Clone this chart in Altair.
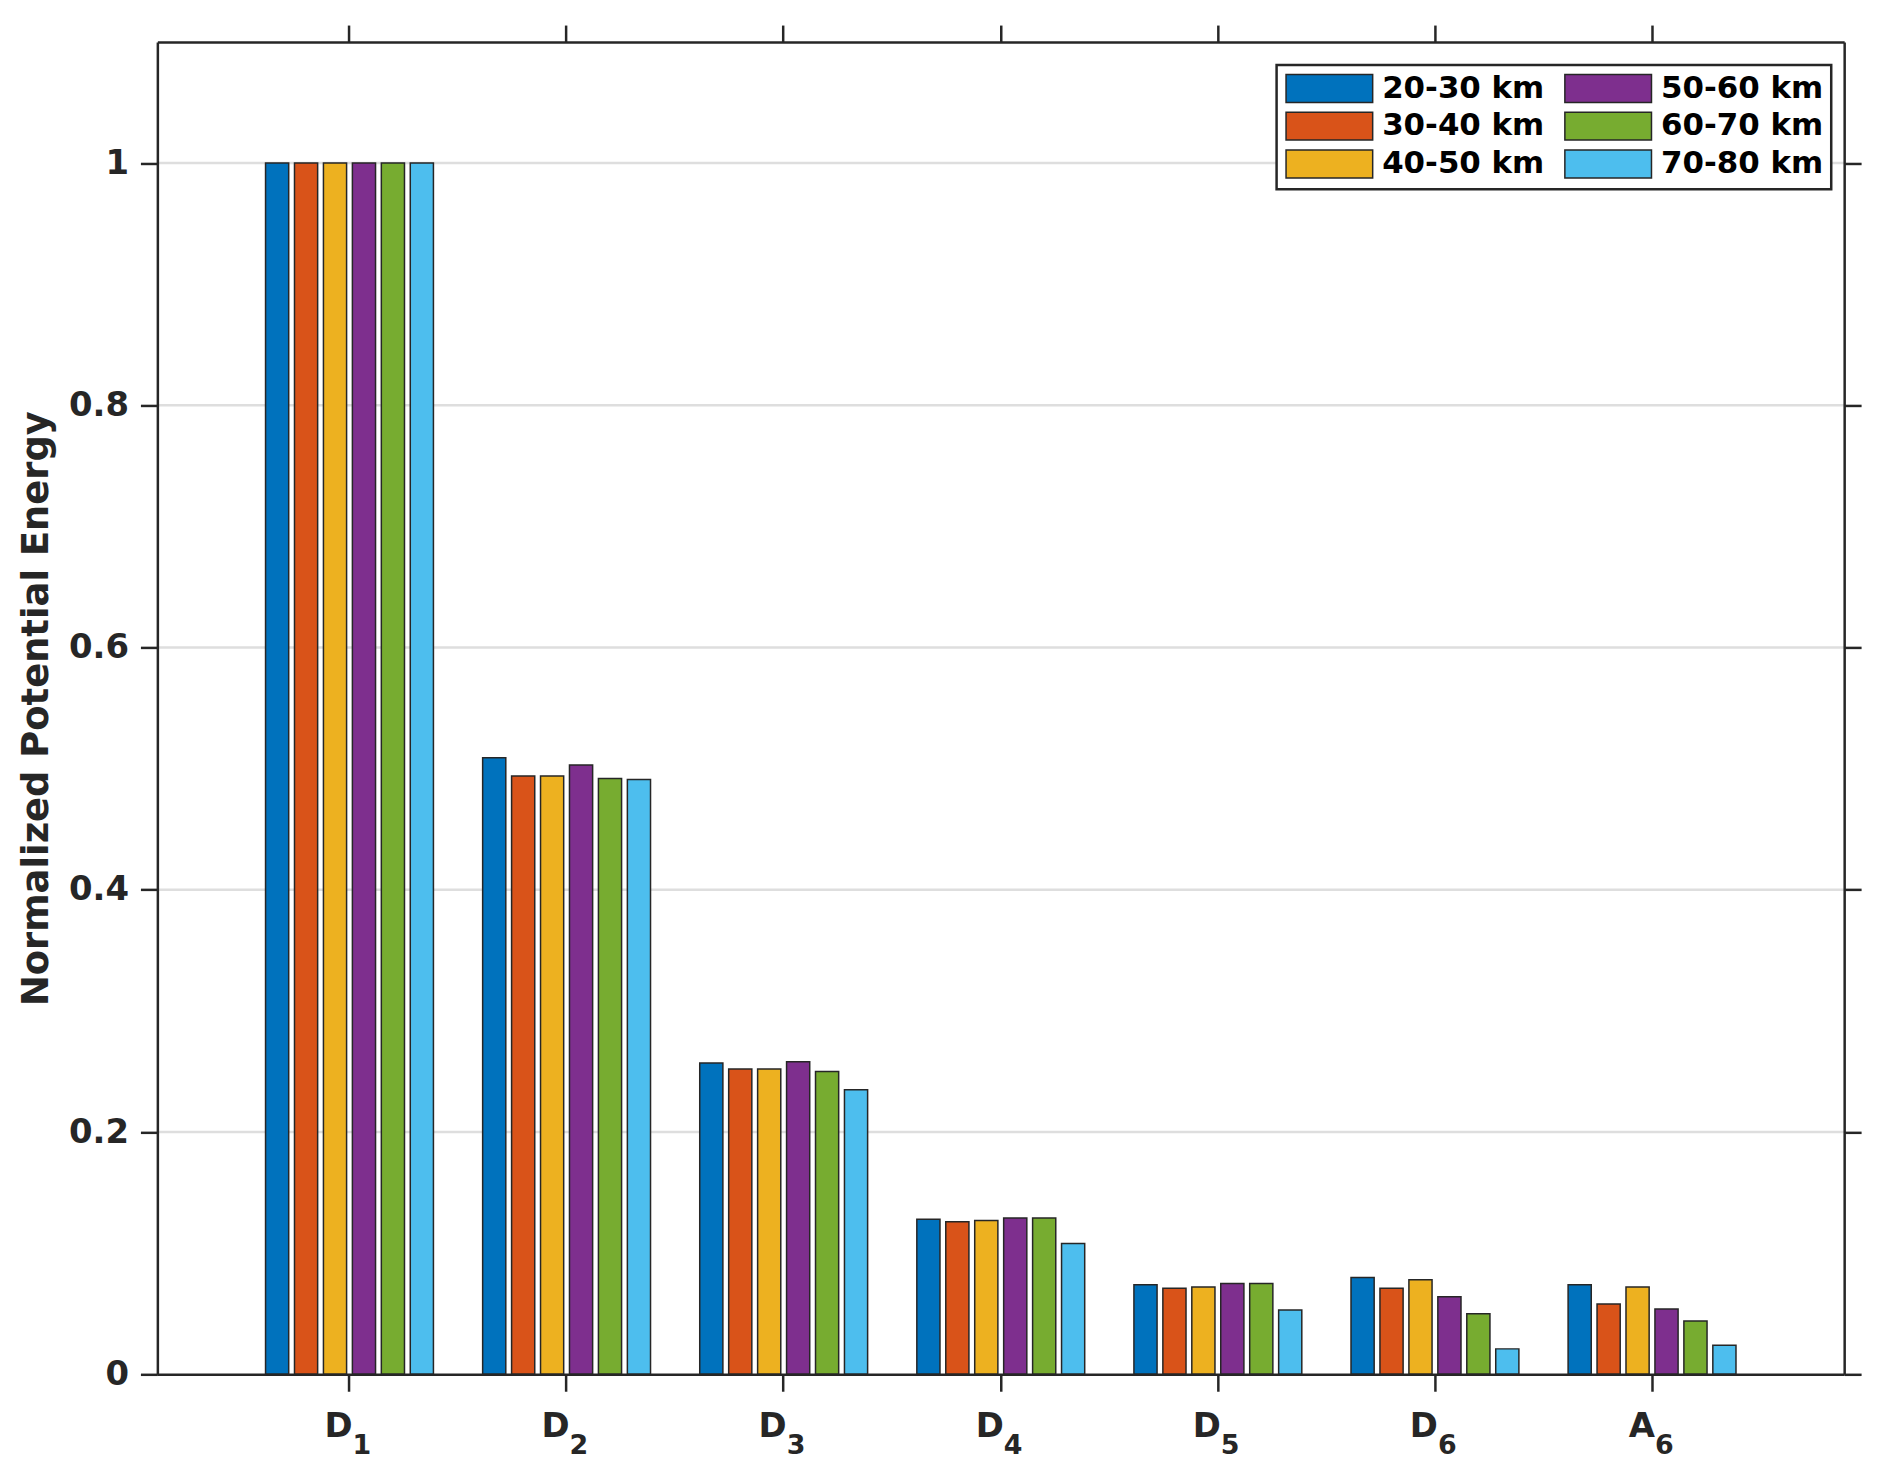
import altair as alt
import pandas as pd

# ---- data ----
categories = ["D1", "D2", "D3", "D4", "D5", "D6", "A6"]
label_main = ["D", "D", "D", "D", "D", "D", "A"]
label_sub = ["1", "2", "3", "4", "5", "6", "6"]

series = ["20-30 km", "30-40 km", "40-50 km", "50-60 km", "60-70 km", "70-80 km"]
colors = ["#0072BD", "#D95319", "#EDB120", "#7E2F8E", "#77AC30", "#4DBEEE"]

v_20_30 = [1.0, 0.509, 0.257, 0.128, 0.074, 0.080, 0.074]
v_30_40 = [1.0, 0.494, 0.252, 0.126, 0.071, 0.071, 0.058]
v_40_50 = [1.0, 0.494, 0.252, 0.127, 0.072, 0.078, 0.072]
v_50_60 = [1.0, 0.503, 0.258, 0.129, 0.075, 0.064, 0.054]
v_60_70 = [1.0, 0.492, 0.250, 0.129, 0.075, 0.050, 0.044]
v_70_80 = [1.0, 0.491, 0.235, 0.108, 0.053, 0.021, 0.024]

y_ticks = [0, 0.2, 0.4, 0.6, 0.8, 1.0]
grid_values = [0.2, 0.4, 0.6, 0.8, 1.0]
y_domain = [0, 1.1]

# ---- tables ----
values = [v_20_30, v_30_40, v_40_50, v_50_60, v_60_70, v_70_80]
rows = []
for s, vals in zip(series, values):
    for c, v in zip(categories, vals):
        rows.append({"cat": c, "series": s, "value": v})
df = pd.DataFrame(rows)
labels_df = pd.DataFrame({"cat": categories, "main": label_main, "sub": label_sub})
grid_df = pd.DataFrame({"g": grid_values})

W, H = 1694, 1338
INK = "#262626"
FONT = "DejaVu Sans"

xscale = alt.Scale(domain=categories, paddingInner=0.2, paddingOuter=0.485)
yscale = alt.Scale(domain=y_domain, nice=False, zero=True)

grid = alt.Chart(grid_df).mark_rule(color="#dedede", strokeWidth=2.5).encode(
    y=alt.Y("g:Q", scale=yscale, axis=None)
)

bars = alt.Chart(df).mark_bar(stroke=INK, strokeWidth=1.5).encode(
    x=alt.X(
        "cat:N", sort=categories, scale=xscale,
        axis=alt.Axis(orient="bottom", title=None, labels=False, ticks=True,
                      tickSize=17, tickWidth=2.5, tickColor=INK,
                      domainColor=INK, domainWidth=2.5, grid=False,
                      bandPosition=0.5, zindex=1),
    ),
    xOffset=alt.XOffset("series:N", sort=series,
                        scale=alt.Scale(paddingInner=0.2, paddingOuter=0.1)),
    y=alt.Y(
        "value:Q", scale=yscale,
        axis=alt.Axis(orient="left", values=y_ticks, format="~g",
                      title="Normalized Potential Energy",
                      titleFontSize=37, titleFontWeight="bold", titleColor=INK,
                      titleX=-121, titleY=H / 2, titleAngle=270,
                      titleAlign="center", titleBaseline="middle",
                      labelFontSize=34, labelFontWeight="bold", labelColor=INK,
                      labelPadding=12, tickSize=17, tickWidth=2.5, tickColor=INK,
                      domainColor=INK, domainWidth=2.5, grid=False, zindex=1),
    ),
    color=alt.Color(
        "series:N",
        scale=alt.Scale(domain=series, range=colors),
        legend=alt.Legend(
            orient="none", legendX=1124, legendY=23, columns=2, title=None,
            symbolType="M-1,-1L5.214,-1L5.214,1L-1,1Z", symbolSize=784,
            symbolStrokeColor=INK, symbolStrokeWidth=1.5, symbolOpacity=1,
            labelFontSize=31, labelFontWeight="bold", labelColor="#000000",
            labelOffset=67, columnPadding=17, rowPadding=3, padding=8,
            strokeColor=INK, fillColor="white", labelLimit=400,
        ),
    ),
)

frame = alt.Chart(df).mark_point(opacity=0).encode(
    x=alt.X("cat:N", sort=categories, scale=xscale,
            axis=alt.Axis(orient="top", title=None, labels=False, ticks=True,
                          tickSize=17, tickWidth=2.5, tickColor=INK,
                          domainColor=INK, domainWidth=2.5, grid=False,
                          bandPosition=0.5, zindex=1)),
    y=alt.Y("value:Q", scale=yscale,
            axis=alt.Axis(orient="right", values=y_ticks, title=None,
                          labels=False, tickSize=17, tickWidth=2.5,
                          tickColor=INK, domainColor=INK, domainWidth=2.5,
                          grid=False, zindex=1)),
)

txt_main = alt.Chart(labels_df).mark_text(
    align="right", baseline="alphabetic", dx=3, fontSize=34,
    fontWeight="bold", font=FONT, color=INK,
).encode(
    x=alt.X("cat:N", sort=categories, scale=xscale, axis=None),
    y=alt.value(H + 63),
    text="main:N",
)

txt_sub = alt.Chart(labels_df).mark_text(
    align="left", baseline="alphabetic", dx=3, fontSize=27,
    fontWeight="bold", font=FONT, color=INK,
).encode(
    x=alt.X("cat:N", sort=categories, scale=xscale, axis=None),
    y=alt.value(H + 80),
    text="sub:N",
)

chart = (
    alt.layer(grid, bars, frame, txt_main, txt_sub)
    .resolve_axis(x="independent", y="independent")
    .properties(
        width=W, height=H,
        autosize=alt.AutoSizeParams(type="none"),
        padding={"left": 150, "top": 31, "right": 40, "bottom": 101},
        background="white",
    )
    .configure(font=FONT)
    .configure_view(stroke=None)
    .configure_legend(strokeWidth=2.5)
)

chart.save("out.html", embed_options={"renderer": "svg", "actions": False})
